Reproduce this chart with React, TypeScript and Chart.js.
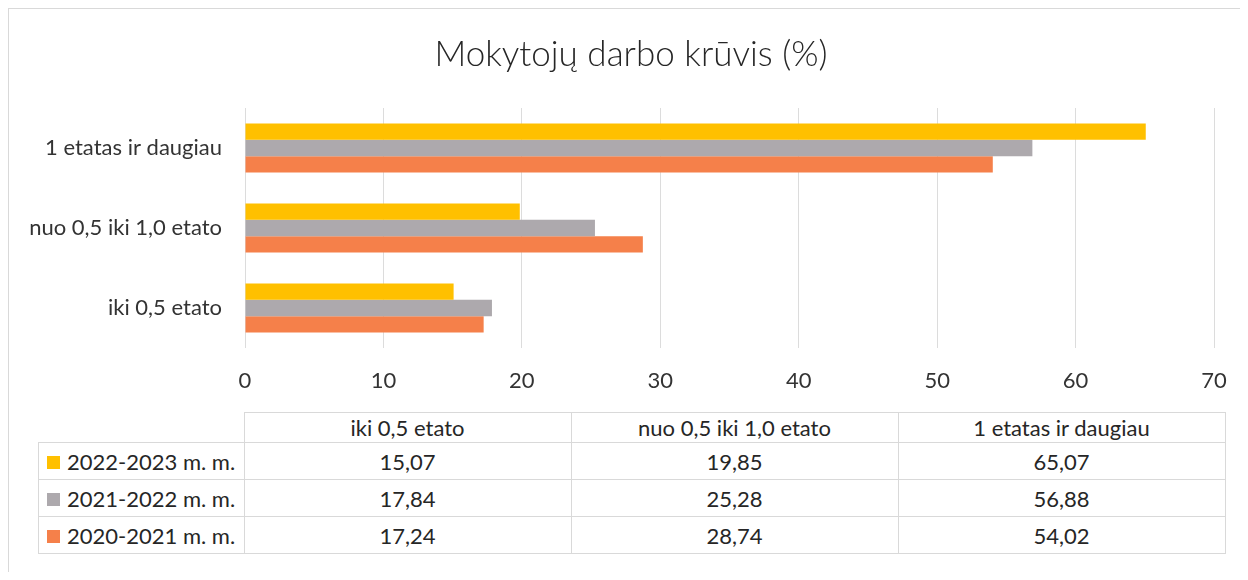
import React, { useEffect, useRef } from "react";
import { Chart, registerables } from "chart.js";

Chart.register(...registerables);

const categories: string[] = ["iki 0,5 etato", "nuo 0,5 iki 1,0 etato", "1 etatas ir daugiau"];
const seriesLabels: string[] = ["2022-2023 m. m.", "2021-2022 m. m.", "2020-2021 m. m."];
const values2022: number[] = [15.07, 19.85, 65.07];
const values2021: number[] = [17.84, 25.28, 56.88];
const values2020: number[] = [17.24, 28.74, 54.02];
const seriesColors: string[] = ["#FFC000", "#ADA9AD", "#F5804A"];
const xTicks: number[] = [0, 10, 20, 30, 40, 50, 60, 70];
const title = "Mokytojų darbo krūvis (%)";

const allSeries = [values2022, values2021, values2020];
const FONT = "Lato, 'Open Sans', sans-serif";
const FS = 22;
const fmt = (v: number) => v.toFixed(2).replace(".", ",");

export default function App() {
  const ref = useRef<HTMLCanvasElement | null>(null);

  useEffect(() => {
    if (!ref.current) return;
    const chart = new Chart(ref.current, {
      type: "bar",
      data: {
        labels: categories,
        datasets: allSeries.map((vals, i) => ({
          label: seriesLabels[i],
          data: vals,
          backgroundColor: seriesColors[i],
          borderWidth: 0,
          barPercentage: 1,
          categoryPercentage: 0.61,
        })),
      },
      options: {
        indexAxis: "y",
        animation: false,
        responsive: false,
        maintainAspectRatio: false,
        layout: { padding: { left: 0, right: 0, top: 0, bottom: 0 } },
        plugins: {
          legend: { display: false },
          tooltip: { enabled: false },
          title: {
            display: true,
            text: title,
            color: "#262626",
            font: { family: FONT, size: 35, weight: "300" as any, lineHeight: 1.2 },
            padding: { top: 25, bottom: 32 },
          },
        },
        scales: {
          x: {
            min: xTicks[0],
            max: xTicks[xTicks.length - 1],
            afterBuildTicks: (s: any) => {
              s.ticks = xTicks.map((v) => ({ value: v }));
            },
            afterFit: (s: any) => {
              s.height = 61;
              s.paddingRight = 39;
              s.paddingLeft = 0;
            },
            grid: { color: "#DCDCDC", lineWidth: 1, drawTicks: false },
            border: { display: false },
            ticks: {
              color: "#333333",
              font: { family: FONT, size: FS },
              padding: 20,
            },
          },
          y: {
            reverse: true,
            afterFit: (s: any) => {
              s.width = 236;
            },
            grid: { display: false, drawTicks: false },
            border: { display: false },
            ticks: {
              color: "#333333",
              font: { family: FONT, size: FS },
              padding: 23,
            },
          },
        },
      },
    });
    return () => chart.destroy();
  }, []);

  const cellBorder = "1px solid #D9D9D9";
  const colW = 326;

  return (
    <div
      style={{
        position: "relative",
        width: 1232,
        height: 564,
        borderTop: cellBorder,
        borderLeft: cellBorder,
        boxSizing: "border-box",
        overflow: "hidden",
        background: "#fff",
        fontFamily: FONT,
      }}
    >
      <canvas
        ref={ref}
        width={1244}
        height={400}
        style={{ position: "absolute", left: 0, top: 0, width: 1244, height: 400 }}
      />
      <table
        style={{
          position: "absolute",
          left: 29,
          top: 403,
          borderCollapse: "collapse",
          fontSize: FS,
          color: "#262626",
          fontFamily: FONT,
          tableLayout: "fixed",
        }}
      >
        <tbody>
          <tr style={{ height: 30 }}>
            <td style={{ width: 205, padding: 0 }}></td>
            {categories.map((c) => (
              <td key={c} style={{ width: colW, border: cellBorder, textAlign: "center", padding: 0, lineHeight: "28px" }}>
                {c}
              </td>
            ))}
          </tr>
          {seriesLabels.map((lab, i) => (
            <tr key={lab} style={{ height: 37 }}>
              <td style={{ border: cellBorder, padding: "0 0 0 8px", whiteSpace: "nowrap", lineHeight: "35px" }}>
                <span
                  style={{
                    display: "inline-block",
                    width: 13,
                    height: 13,
                    background: seriesColors[i],
                    marginRight: 7,
                    verticalAlign: "middle",
                    position: "relative",
                    top: -1,
                  }}
                />
                {lab}
              </td>
              {allSeries[i].map((v, j) => (
                <td key={j} style={{ border: cellBorder, textAlign: "center", padding: 0, lineHeight: "35px" }}>
                  {fmt(v)}
                </td>
              ))}
            </tr>
          ))}
        </tbody>
      </table>
    </div>
  );
}
